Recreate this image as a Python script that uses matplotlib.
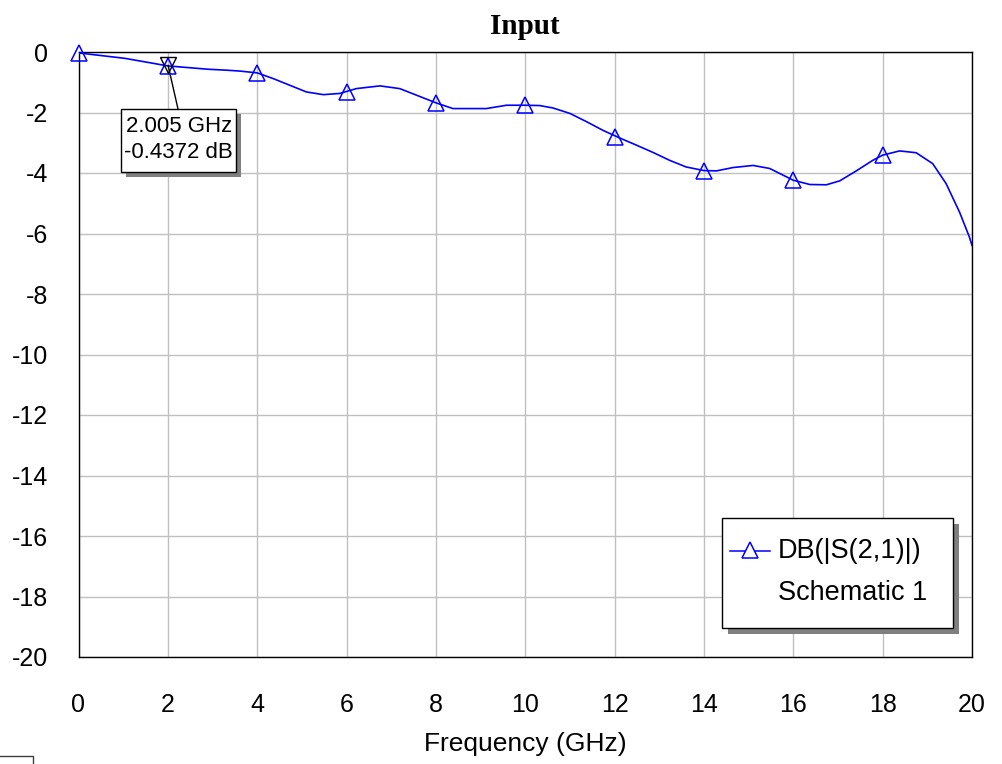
import matplotlib
matplotlib.use("Agg")
import matplotlib.pyplot as plt
from matplotlib.patches import Rectangle
from matplotlib.lines import Line2D

# S21 trace (GHz, dB)
freq = [0.0, 1.04, 2.0, 2.9, 3.3, 3.61, 4.0, 4.36, 4.73, 5.1, 5.48, 5.85, 6.22, 6.75,
        7.19, 7.57, 8.0, 8.38, 9.13, 9.58, 10.0, 10.32, 10.62, 11.0, 11.38, 11.74,
        12.11, 12.49, 12.86, 13.23, 13.6, 14.0, 14.28, 14.65, 15.1, 15.47, 15.77,
        16.0, 16.37, 16.74, 17.04, 17.41, 17.78, 18.0, 18.38, 18.75, 19.12, 19.42,
        19.72, 19.94, 20.0]
s21_db = [-0.03, -0.21, -0.46, -0.57, -0.60, -0.63, -0.69, -0.88, -1.10, -1.32, -1.41,
          -1.37, -1.21, -1.12, -1.21, -1.43, -1.68, -1.87, -1.87, -1.76, -1.76, -1.77,
          -1.85, -2.03, -2.31, -2.59, -2.84, -3.08, -3.32, -3.58, -3.80, -3.92, -3.93,
          -3.82, -3.75, -3.85, -4.07, -4.24, -4.38, -4.39, -4.26, -3.93, -3.58, -3.41,
          -3.27, -3.33, -3.69, -4.35, -5.29, -6.11, -6.39]

marker_freq = [0, 2, 4, 6, 8, 10, 12, 14, 16, 18]
marker_db = [-0.03, -0.46, -0.69, -1.32, -1.68, -1.76, -2.81, -3.92, -4.24, -3.41]

mk_freq = 2.005
mk_db = -0.4372

xticks = list(range(0, 21, 2))
yticks = list(range(-20, 1, 2))

plt.rcParams["font.family"] = ["Liberation Sans", "DejaVu Sans"]

W, H = 1002, 764
fig = plt.figure(figsize=(W / 100, H / 100), dpi=100)


def fx(x):
    return x / W


def fy(y):
    return 1 - y / H


ax = fig.add_axes([fx(78.5), fy(657), fx(972) - fx(78.5), fy(52) - fy(657)])
blue = "#0000ff"
ax.plot(freq, s21_db, color=blue, lw=1.2, zorder=3, solid_joinstyle="round")
ax.plot(marker_freq, marker_db, ls="none", marker="^", ms=12, mfc="none",
        mec=blue, mew=1.1, zorder=4, clip_on=False)
ax.plot([mk_freq], [mk_db], ls="none", marker="v", ms=11, mfc="none",
        mec="black", mew=1.0, zorder=5)

ax.set_xlim(0, 20)
ax.set_ylim(-20, 0)
ax.set_xticks(xticks)
ax.set_yticks(yticks)
ax.set_xticklabels([str(t) for t in xticks])
ax.set_yticklabels([str(t) for t in yticks])
ax.grid(True, color="#c0c0c0", lw=1.0)
ax.set_axisbelow(True)
ax.tick_params(length=0, labelsize=18)
ax.tick_params(axis="x", pad=26)
ax.tick_params(axis="y", pad=22)
for s in ax.spines.values():
    s.set_color("black")
    s.set_linewidth(1.0)
ax.set_xlabel("Frequency (GHz)", fontsize=19, labelpad=11)

fig.text(fx(525), fy(26), "Input", ha="center", va="center",
         fontsize=21, fontweight="bold", family=["Liberation Serif", "DejaVu Serif"])

# marker readout box
ax.annotate("", xy=(mk_freq, mk_db), xytext=(178, H - 109),
            textcoords="figure pixels",
            arrowprops=dict(arrowstyle="-", color="black", lw=1.0, shrinkA=0, shrinkB=0))
fig.add_artist(Rectangle((fx(126), fy(177)), fx(115), fy(109) - fy(172),
                         transform=fig.transFigure, fc="#7f7f7f", ec="none", zorder=6))
fig.add_artist(Rectangle((fx(121), fy(172)), fx(115), fy(109) - fy(172),
                         transform=fig.transFigure, fc="white", ec="black", lw=1.0, zorder=7))
fig.text(fx(126), fy(126), "2.005 GHz", fontsize=16, va="center", ha="left", zorder=8)
fig.text(fx(124), fy(153), "-0.4372 dB", fontsize=16, va="center", ha="left", zorder=8)

# legend box
fig.add_artist(Rectangle((fx(728), fy(634)), fx(231), fy(518) - fy(628),
                         transform=fig.transFigure, fc="#7f7f7f", ec="none", zorder=6))
fig.add_artist(Rectangle((fx(722), fy(628)), fx(231), fy(518) - fy(628),
                         transform=fig.transFigure, fc="white", ec="black", lw=1.0, zorder=7))
fig.add_artist(Line2D([fx(730), fx(770)], [fy(551), fy(551)], transform=fig.transFigure,
                      color=blue, lw=1.1, zorder=8))
fig.add_artist(Line2D([fx(750)], [fy(550)], transform=fig.transFigure, ls="none",
                      marker="^", ms=11, mfc="white", mec=blue, mew=1.1, zorder=9))
fig.text(fx(778), fy(551), "DB(|S(2,1)|)", fontsize=19.5, va="center", ha="left", zorder=8)
fig.text(fx(778), fy(593), "Schematic 1", fontsize=19.5, va="center", ha="left", zorder=8)

# stray box fragment at the bottom-left corner
fig.add_artist(Line2D([0, fx(33), fx(33)], [fy(756), fy(756), 0], transform=fig.transFigure,
                      color="#404040", lw=1.0))

fig.savefig("out.png", dpi=100)
